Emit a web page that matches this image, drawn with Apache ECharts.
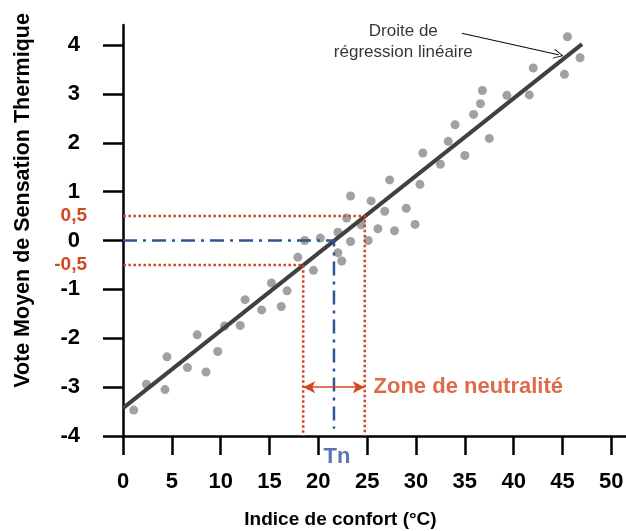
<!DOCTYPE html>
<html lang="fr">
<head>
  <meta charset="UTF-8">
  <title>Vote moyen de sensation thermique</title>
  <script src="https://cdn.jsdelivr.net/npm/echarts@6/dist/echarts.min.js"></script>
</head>
<body style="margin:0">
<div id="main" style="width:626px;height:531px;"></div>
<script type="text/javascript">
  // indice de confort (°C) et vote moyen de chaque point
  var indice = [1.1, 2.4, 4.3, 4.5, 6.6, 7.6, 8.5, 9.7, 10.4, 12.0,
    12.5, 14.2, 15.2, 16.2, 16.8, 17.9, 18.6, 19.5, 20.2, 22.0,
    22.0, 22.4, 22.9, 23.3, 23.3, 24.4, 25.1, 25.4, 26.1, 26.8,
    27.3, 27.8, 29.0, 29.9, 30.4, 30.7, 32.5, 33.3, 34.0, 35.0,
    35.9, 36.6, 36.8, 37.5, 39.3, 41.6, 42.0, 45.2, 45.5, 46.8];
  var vote = [-3.47, -2.94, -3.05, -2.38, -2.6, -1.93, -2.69, -2.27, -1.75, -1.74,
    -1.21, -1.42, -0.87, -1.35, -1.03, -0.34, 0.0, -0.61, 0.05, 0.17,
    -0.25, -0.42, 0.46, -0.02, 0.91, 0.32, 0.0, 0.81, 0.24, 0.6,
    1.24, 0.2, 0.66, 0.33, 1.15, 1.79, 1.56, 2.03, 2.37, 1.74,
    2.58, 2.8, 3.07, 2.09, 2.97, 2.98, 3.53, 3.4, 4.17, 3.74];

  // droite de régression (extrémités)
  var regX = [0, 47];
  var regY = [-3.43, 4.02];

  // zone de neutralité
  var seuilBas = -0.5, seuilHaut = 0.5;
  var zoneMin = 18.45, zoneMax = 24.75;
  var tn = 21.6;

  var xTicks = [0, 5, 10, 15, 20, 25, 30, 35, 40, 45, 50];
  var yTicks = [-4, -3, -2, -1, 0, 1, 2, 3, 4];
  var yLabels = [-4, -3, -2, -1, -0.5, 0, 0.5, 1, 2, 3, 4];

  var rouge = '#d4461b';
  var bleu = '#2f5597';
  var police = 'Liberation Sans, Arial, sans-serif';

  var points = indice.map(function (x, i) { return [x, vote[i]]; });

  var myChart = echarts.init(document.getElementById('main'));

  var option = {
    animation: false,
    textStyle: { fontFamily: police },
    grid: { left: 123, right: 0, top: 25, bottom: 95, outerBoundsMode: 'none' },
    xAxis: {
      type: 'value',
      min: 0,
      max: 51.5,
      name: 'Indice de confort (°C)',
      nameLocation: 'middle',
      nameGap: 74,
      nameTextStyle: { fontSize: 19, fontWeight: 'bold', color: '#000', padding: [0, 68, 0, 0] },
      axisLine: { onZero: false, lineStyle: { color: '#000', width: 2.5 } },
      axisTick: { customValues: xTicks, length: 19, lineStyle: { color: '#000', width: 2.5 } },
      axisLabel: { customValues: xTicks, margin: 35, fontSize: 22, fontWeight: 'bold', color: '#000' },
      splitLine: { show: false }
    },
    yAxis: {
      type: 'value',
      min: -4,
      max: 4.41,
      name: 'Vote Moyen de Sensation Thermique',
      nameLocation: 'middle',
      nameGap: 89,
      nameTextStyle: { fontSize: 21.5, fontWeight: 'bold', color: '#000', padding: [0, 0, 0, 60] },
      axisLine: { onZero: false, lineStyle: { color: '#000', width: 2.5 } },
      axisTick: { customValues: yTicks, length: 20, lineStyle: { color: '#000', width: 2.5 } },
      axisLabel: {
        customValues: yLabels,
        margin: 36,
        formatter: function (v) {
          if (v === seuilBas || v === seuilHaut) {
            return '{r|' + String(v).replace('.', ',') + '}';
          }
          return '{b|' + v + '}';
        },
        rich: {
          b: { fontSize: 22, fontWeight: 'bold', color: '#000', padding: [0, 7, 0, 0] },
          r: { fontSize: 19, fontWeight: 'bold', color: rouge }
        }
      },
      splitLine: { show: false }
    },
    series: [
      {
        name: 'votes',
        type: 'scatter',
        data: points,
        symbolSize: 9,
        itemStyle: { color: '#8a8a8a' },
        z: 2
      },
      {
        name: 'régression',
        type: 'line',
        data: [[regX[0], regY[0]], [regX[1], regY[1]]],
        showSymbol: false,
        lineStyle: { color: '#404040', width: 4 },
        z: 3,
        markLine: {
          silent: true,
          symbol: ['none', 'path://M0,10 L5,0 L10,10 L9,10 L5,2 L1,10 Z'],
          symbolSize: [10, 10],
          lineStyle: { color: '#000', width: 1, type: 'solid' },
          label: { show: false },
          data: [[{ coord: [34.7, 4.24] }, { coord: [44.6, 3.8] }]]
        }
      },
      {
        name: 'seuil haut',
        type: 'line',
        data: [[-2, seuilHaut], [zoneMax, seuilHaut], [zoneMax, -4]],
        clip: false,
        showSymbol: false,
        lineStyle: { color: rouge, width: 2.5, type: [2.5, 2.5] },
        z: 4
      },
      {
        name: 'seuil bas',
        type: 'line',
        data: [[-2, seuilBas], [zoneMin, seuilBas], [zoneMin, -4]],
        clip: false,
        showSymbol: false,
        lineStyle: { color: rouge, width: 2.5, type: [2.5, 2.5] },
        z: 4,
        markLine: {
          silent: true,
          symbol: ['arrow', 'arrow'],
          symbolSize: [9, 12],
          lineStyle: { color: rouge, width: 1.5, type: 'solid' },
          label: { show: false },
          data: [[{ coord: [zoneMin, -3] }, { coord: [zoneMax, -3] }]]
        }
      },
      {
        name: 'Tn',
        type: 'line',
        data: [[0, 0], [tn, 0], [tn, -3.85]],
        clip: false,
        showSymbol: false,
        lineStyle: { color: bleu, width: 2.5, type: [14, 6, 3, 6] },
        z: 4
      },
      {
        name: 'textes',
        type: 'scatter',
        clip: false,
        symbolSize: 1,
        itemStyle: { color: 'rgba(0,0,0,0)' },
        z: 5,
        data: [
          {
            value: [21.9, -4.43],
            label: { show: true, position: 'inside', formatter: 'Tn', fontSize: 22, fontWeight: 'bold', color: bleu }
          },
          {
            value: [25.6, -3],
            label: { show: true, position: 'right', distance: 0, formatter: 'Zone de neutralité', fontSize: 22, fontWeight: 'bold', color: rouge }
          },
          {
            value: [28.7, 4.06],
            label: { show: true, position: 'inside', formatter: 'Droite de\nrégression linéaire', fontSize: 17, lineHeight: 21, color: '#000', align: 'center' }
          }
        ]
      }
    ]
  };

  myChart.setOption(option);
</script>
</body>
</html>
